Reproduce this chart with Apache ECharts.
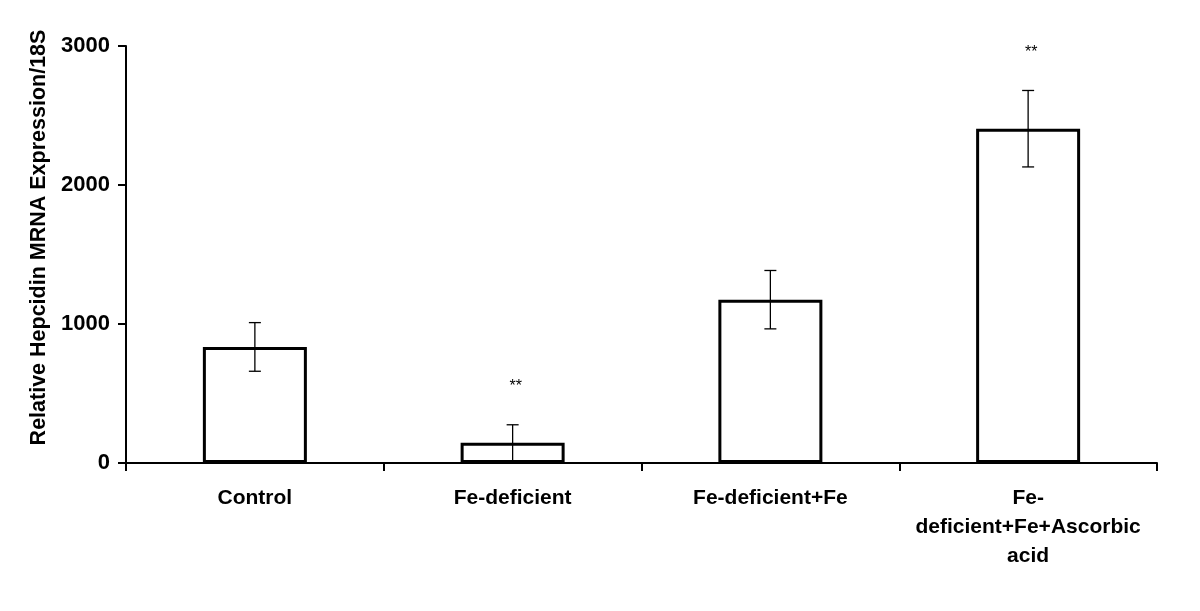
<!DOCTYPE html>
<html>
<head>
<meta charset="utf-8">
<script src="https://cdn.jsdelivr.net/npm/echarts@6/dist/echarts.min.js"></script>
<style>
  html, body { margin: 0; padding: 0; background: #fff; }
  #main { width: 1200px; height: 611px; }
</style>
</head>
<body>
<div id="main"></div>
<script>
// data
var categories = ["Control", "Fe-deficient", "Fe-deficient+Fe", "Fe-deficient+Fe+Ascorbic acid"];
var tickLabels = ["Control", "Fe-deficient", "Fe-deficient+Fe", "Fe-\ndeficient+Fe+Ascorbic\nacid"];
var means = [835, 145, 1175, 2405];
var errors = [175, 130, 210, 275];
var stars = ["", "**", "", "**"];

var chartDom = document.getElementById("main");
var myChart = echarts.init(chartDom);

var errData = means.map(function (m, i) {
  return [i, m - errors[i], m + errors[i]];
});

var font = "'Liberation Sans', Arial, sans-serif";

var option = {
  animation: false,
  backgroundColor: "#fff",
  grid: { left: 126, right: 43, top: 46, bottom: 148 },
  xAxis: {
    type: "category",
    data: categories,
    axisLine: { lineStyle: { color: "#000", width: 2 } },
    axisTick: { show: true, length: 8, lineStyle: { color: "#000", width: 2 } },
    axisLabel: {
      color: "#000",
      fontWeight: "bold",
      fontSize: 21,
      fontFamily: font,
      lineHeight: 29,
      margin: 21,
      interval: 0,
      formatter: function (v, i) {
        return tickLabels[i];
      },
    },
  },
  yAxis: {
    type: "value",
    min: 0,
    max: 3000,
    interval: 1000,
    name: "Relative Hepcidin MRNA Expression/18S",
    nameLocation: "middle",
    nameGap: 73,
    nameTextStyle: {
      color: "#000",
      fontWeight: "bold",
      fontSize: 21.5,
      fontFamily: font,
      padding: [0, 0, 0, 34],
    },
    axisLine: { show: true, lineStyle: { color: "#000", width: 2 } },
    axisTick: { show: true, length: 8, lineStyle: { color: "#000", width: 2 } },
    axisLabel: {
      color: "#000",
      fontWeight: "bold",
      fontSize: 22,
      fontFamily: font,
      margin: 16,
      formatter: function (v) {
        return String(v);
      },
    },
    splitLine: { show: false },
  },
  series: [
    {
      type: "bar",
      data: means,
      barWidth: 104,
      itemStyle: { color: "#fff", borderColor: "#000", borderWidth: 3 },
      z: 2,
    },
    {
      type: "custom",
      data: errData,
      z: 3,
      renderItem: function (params, api) {
        var lo = api.coord([api.value(0), api.value(1)]);
        var hi = api.coord([api.value(0), api.value(2)]);
        var star = stars[params.dataIndex];
        var cap = 6;
        var style = { stroke: "#000", lineWidth: 1.3 };
        var children = [
          { type: "line", shape: { x1: hi[0], y1: hi[1], x2: lo[0], y2: lo[1] }, style: style },
          { type: "line", shape: { x1: hi[0] - cap, y1: hi[1], x2: hi[0] + cap, y2: hi[1] }, style: style },
          { type: "line", shape: { x1: lo[0] - cap, y1: lo[1], x2: lo[0] + cap, y2: lo[1] }, style: style },
        ];
        if (star) {
          children.push({
            type: "text",
            style: {
              text: star,
              x: hi[0] + 3,
              y: hi[1] - 38,
              align: "center",
              verticalAlign: "middle",
              fontSize: 16,
              fontFamily: font,
              fill: "#000",
            },
          });
        }
        return { type: "group", children: children };
      },
    },
  ],
};

option && myChart.setOption(option);
</script>
</body>
</html>
